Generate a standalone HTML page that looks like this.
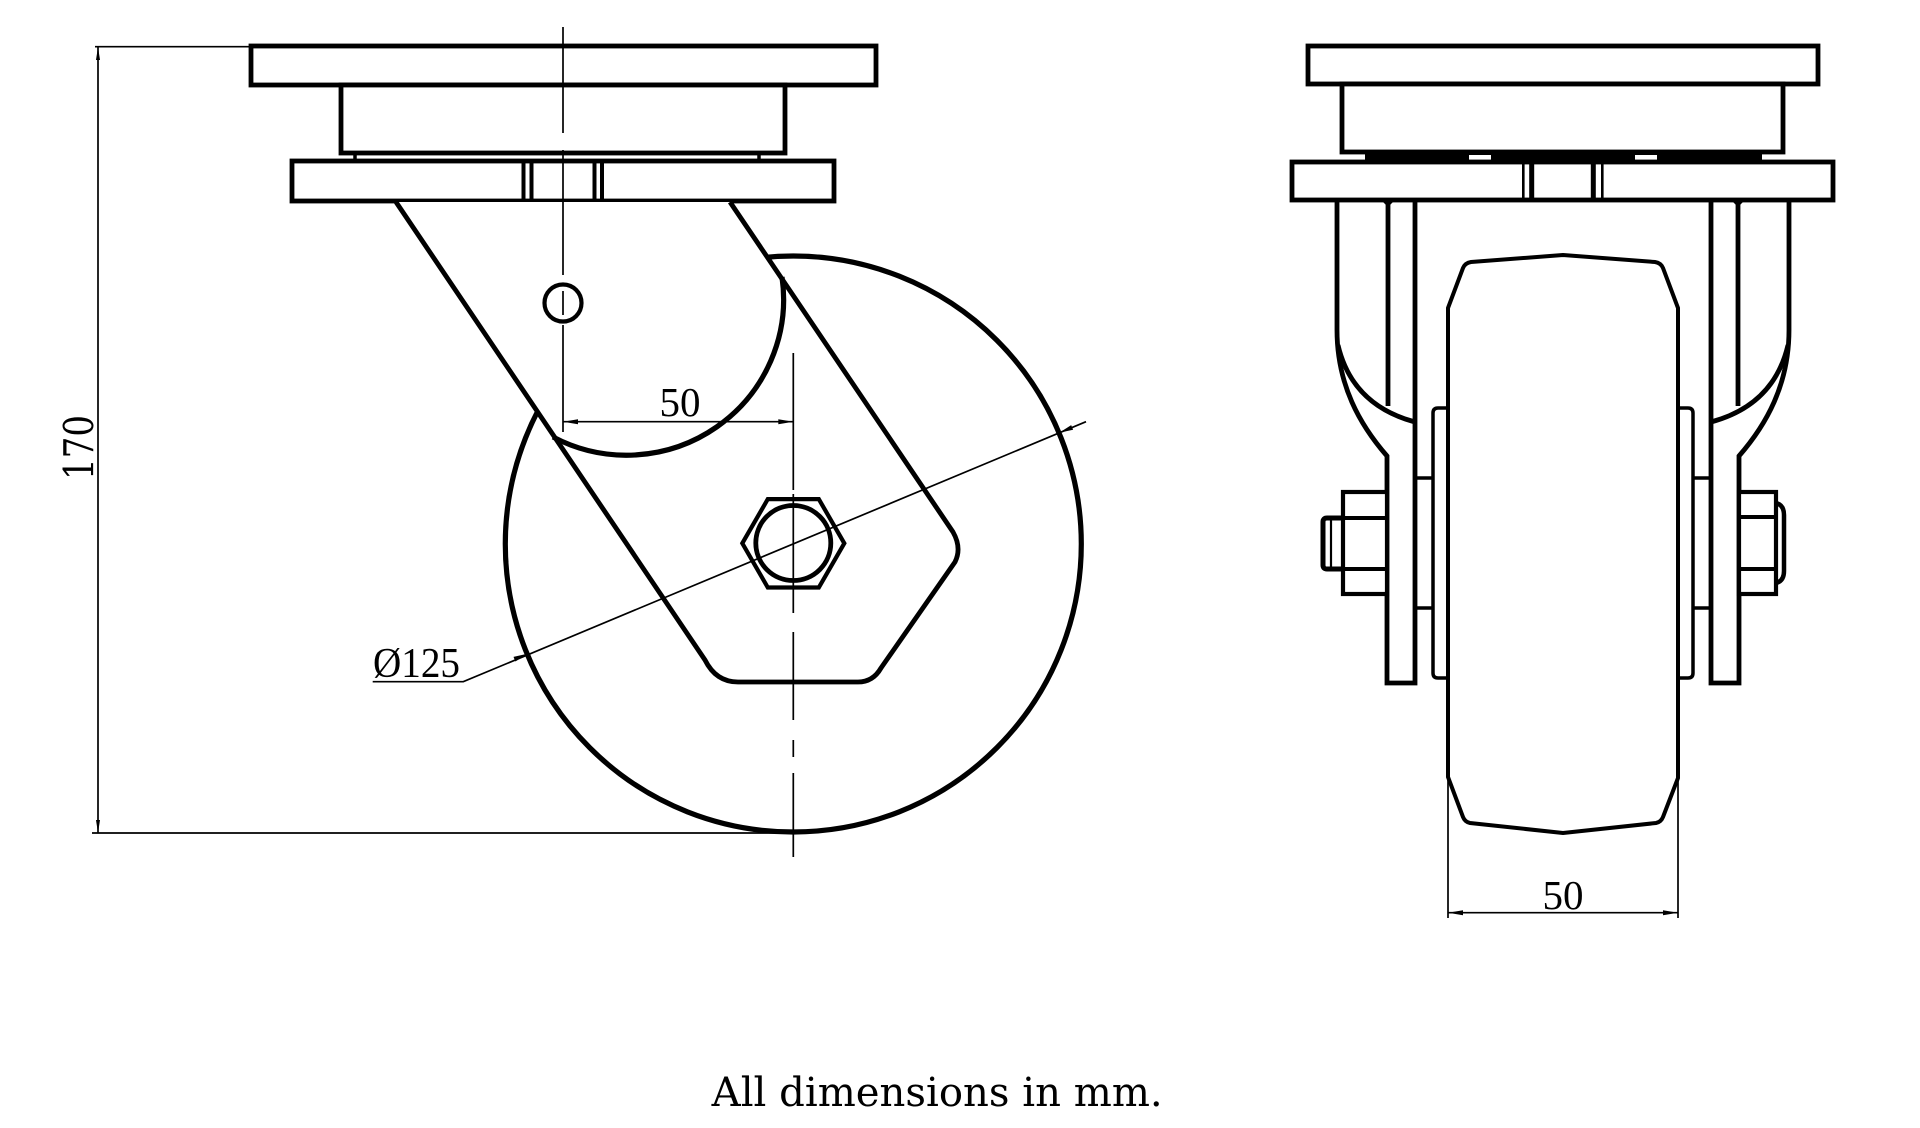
<!DOCTYPE html>
<html>
<head>
<meta charset="utf-8">
<style>
html,body{margin:0;padding:0;background:#fff;}
svg{display:block;}
</style>
</head>
<body>
<svg width="1920" height="1128" viewBox="0 0 1920 1128" xmlns="http://www.w3.org/2000/svg">
<rect x="0" y="0" width="1920" height="1128" fill="#fff"/>

<!-- ================= LEFT VIEW ================= -->
<g fill="none" stroke="#000" stroke-width="4.8" stroke-linejoin="miter">
  <rect x="251" y="46" width="625" height="39" fill="#fff"/>
  <rect x="341" y="85" width="444" height="68" fill="#fff"/>
  <rect x="292" y="161" width="542" height="40" fill="#fff"/>
</g>
<g stroke="#000" stroke-width="3.5">
  <line x1="355" y1="153" x2="355" y2="161"/>
  <line x1="759" y1="153" x2="759" y2="161"/>
</g>
<g stroke="#000" stroke-width="4">
  <line x1="523.5" y1="161" x2="523.5" y2="201"/>
  <line x1="531.5" y1="161" x2="531.5" y2="201"/>
  <line x1="594.5" y1="161" x2="594.5" y2="201"/>
  <line x1="602" y1="161" x2="602" y2="201"/>
</g>

<!-- wheel -->
<circle cx="793.3" cy="544" r="288" fill="none" stroke="#000" stroke-width="5.2"/>

<!-- fork -->
<path d="M396,202 L705,660 Q716,682 738,682 L858,682 Q873,682 881,668 L955,562 Q962,548 953,532 L730,202"
      fill="#fff" stroke="#000" stroke-width="4.8" stroke-linejoin="round"/>

<!-- swivel arc -->
<path d="M782,277 A157,156 0 0 1 553,437" fill="none" stroke="#000" stroke-width="5.2"/>

<!-- small circle -->
<circle cx="563" cy="303" r="18.5" fill="none" stroke="#000" stroke-width="4.2"/>

<!-- hex nut -->
<polygon points="844.3,543.3 818.8,587.5 767.8,587.5 742.3,543.3 767.8,499.1 818.8,499.1"
         fill="#fff" stroke="#000" stroke-width="4.2"/>
<circle cx="793.3" cy="543" r="37.5" fill="none" stroke="#000" stroke-width="4.8"/>

<!-- centerlines -->
<g stroke="#000" stroke-width="1.7">
  <line x1="563" y1="27" x2="563" y2="133"/>
  <line x1="563" y1="150" x2="563" y2="275"/>
  <line x1="563" y1="291" x2="563" y2="315"/>
  <line x1="563" y1="325" x2="563" y2="432"/>

  <line x1="793.3" y1="353" x2="793.3" y2="490"/>
  <line x1="793.3" y1="494" x2="793.3" y2="613"/>
  <line x1="793.3" y1="632" x2="793.3" y2="720"/>
  <line x1="793.3" y1="740" x2="793.3" y2="757"/>
  <line x1="793.3" y1="773" x2="793.3" y2="857"/>
</g>

<!-- dimension lines -->
<g stroke="#000" stroke-width="1.7" fill="none">
  <line x1="98" y1="47" x2="98" y2="833"/>
  <line x1="95" y1="46.7" x2="251" y2="46.7"/>
  <line x1="92" y1="833" x2="793" y2="833"/>
  <line x1="563" y1="421.7" x2="793.3" y2="421.7"/>
  <polyline points="372.7,681.7 463.3,681.7 1086,421.7"/>
</g>
<g fill="#000" stroke="none">
  <polygon points="98,47 96,60 100,60"/>
  <polygon points="98,833 96,820 100,820"/>
  <polygon points="563,421.7 578,419.2 578,424.2"/>
  <polygon points="793.3,421.7 778.3,419.2 778.3,424.2"/>
  <polygon points="527.4,653.8 513.5,656.9 515.4,661.5"/>
  <polygon points="1059.2,432.8 1073.1,429.7 1071.2,425.1"/>
</g>

<!-- texts left -->
<text x="680" y="416" font-family="'Liberation Serif', serif" font-size="41" text-anchor="middle" fill="#000">50</text>
<text x="373" y="677" font-family="'Liberation Serif', serif" font-size="42" fill="#000" textLength="87" lengthAdjust="spacingAndGlyphs">Ø125</text>
<text transform="translate(93.3,447.5) rotate(-90)" font-family="'DejaVu Serif', serif" font-size="41" text-anchor="middle" fill="#000" textLength="65" lengthAdjust="spacingAndGlyphs">170</text>

<!-- ================= RIGHT VIEW ================= -->
<g fill="#fff" stroke="#000" stroke-width="4.8">
  <rect x="1308" y="46" width="510" height="38"/>
  <rect x="1342" y="84" width="441" height="68"/>
</g>
<rect x="1365" y="152" width="397" height="10" fill="#000"/>
<rect x="1469" y="155" width="22" height="5" fill="#fff"/>
<rect x="1635" y="155" width="22" height="5" fill="#fff"/>
<rect x="1292" y="162" width="541" height="38" fill="#fff" stroke="#000" stroke-width="4.8"/>
<g stroke="#000">
  <line x1="1523.3" y1="162" x2="1523.3" y2="200" stroke-width="2.6"/>
  <line x1="1531.7" y1="162" x2="1531.7" y2="200" stroke-width="5"/>
  <line x1="1593.3" y1="162" x2="1593.3" y2="200" stroke-width="5"/>
  <line x1="1602.3" y1="162" x2="1602.3" y2="200" stroke-width="2.6"/>
</g>

<!-- fork legs -->
<g fill="none" stroke="#000" stroke-width="4.8">
  <path d="M1337,200 V330 C1337,385 1360,425 1387,456 V683 H1415 V200"/>
  <line x1="1388" y1="200" x2="1388" y2="406"/>
  <path d="M1338,345 Q1352,405 1415,422"/>
  <path d="M1789,200 V330 C1789,385 1766,425 1739,456 V683 H1711 V200"/>
  <line x1="1738" y1="200" x2="1738" y2="406"/>
  <path d="M1788,345 Q1774,405 1711,422"/>
</g>
<g fill="#000">
  <polygon points="1382,201 1394,201 1388,207"/>
  <polygon points="1732,201 1744,201 1738,207"/>
</g>

<!-- hub bosses -->
<g fill="none" stroke="#000" stroke-width="3.5">
  <path d="M1448,408 H1438 Q1433,408 1433,413 V673 Q1433,678 1438,678 H1448"/>
  <line x1="1415" y1="478" x2="1433" y2="478"/>
  <line x1="1415" y1="608" x2="1433" y2="608"/>
  <path d="M1678,408 H1688 Q1693,408 1693,413 V673 Q1693,678 1688,678 H1678"/>
  <line x1="1693" y1="478" x2="1711" y2="478"/>
  <line x1="1693" y1="608" x2="1711" y2="608"/>
</g>

<!-- tire -->
<path d="M1448,308 L1463,268 Q1465,263 1471,262 L1563,255 L1655,262 Q1661,263 1663,268 L1678,308 V778 L1663,817 Q1661,822 1656,823 L1563,833 L1470,823 Q1465,822 1463,817 L1448,777 Z"
      fill="none" stroke="#000" stroke-width="4" stroke-linejoin="round"/>

<!-- bolts -->
<g fill="#fff" stroke="#000" stroke-width="4.2">
  <rect x="1343" y="492" width="44" height="102"/>
  <rect x="1739" y="492" width="37" height="102"/>
</g>
<g fill="none" stroke="#000">
  <line x1="1327" y1="518" x2="1387" y2="518" stroke-width="4"/>
  <line x1="1327" y1="569" x2="1387" y2="569" stroke-width="4"/>
  <path d="M1343,518 H1327 Q1323,518 1323,522 V565 Q1323,569 1327,569 H1343" stroke-width="5"/>
  <line x1="1331" y1="518" x2="1331" y2="569" stroke-width="2.2"/>
  <line x1="1739" y1="517" x2="1776" y2="517" stroke-width="4"/>
  <line x1="1739" y1="569" x2="1776" y2="569" stroke-width="4"/>
  <path d="M1776,503 Q1784,505 1784,515 V571 Q1784,581 1776,583" stroke-width="4.5"/>
</g>

<!-- right dimension -->
<g stroke="#000" stroke-width="1.7">
  <line x1="1448" y1="780" x2="1448" y2="918"/>
  <line x1="1678" y1="780" x2="1678" y2="918"/>
  <line x1="1448" y1="912.7" x2="1678" y2="912.7"/>
</g>
<g fill="#000">
  <polygon points="1448,912.7 1463,910.2 1463,915.2"/>
  <polygon points="1678,912.7 1663,910.2 1663,915.2"/>
</g>
<text x="1563" y="909" font-family="'Liberation Serif', serif" font-size="41" text-anchor="middle" fill="#000">50</text>

<!-- footer -->
<text x="711.7" y="1106" font-family="'DejaVu Serif', serif" font-size="40" fill="#000" textLength="451" lengthAdjust="spacingAndGlyphs">All dimensions in mm.</text>
</svg>
</body>
</html>
